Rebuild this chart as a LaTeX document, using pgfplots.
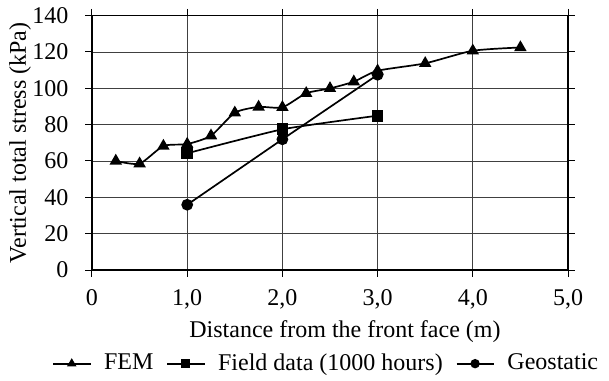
\documentclass[border=0pt]{standalone}
\usepackage{fontspec}
\setmainfont{Liberation Serif}
\usepackage{pgfplots}
\pgfplotsset{compat=1.18}
\begin{document}
\fontsize{24}{28}\selectfont
\begin{tikzpicture}
\begin{axis}[
 scale only axis, width=476pt, height=254.5pt,
 xmin=0,xmax=5,ymin=0,ymax=140,
 xtick={0,1,2,3,4,5}, ytick={0,20,...,140},
 xticklabels={0,{1,0},{2,0},{3,0},{4,0},{5,0}},
 grid=major, major grid style={black!75, line width=0.7pt},
 axis line style={line width=1.2pt},
 tick align=outside, major tick length=6.5pt, tick style={black, line width=1pt},
 xlabel={Distance from the front face (m)},
 ylabel={Vertical total stress (kPa)},
 /pgf/number format/assume math mode=true,
 tick label style={font=\fontsize{24}{28}\selectfont},
 label style={font=\fontsize{24}{28}\selectfont},
 yticklabel style={xshift=-9pt},
 xticklabel style={yshift=-5pt},
 xlabel style={yshift=5pt, xshift=15pt},
 ylabel style={yshift=-15pt},
 legend style={at={(0.49,-0.368)}, anchor=center, draw=none, legend columns=3,
   font=\fontsize{24}{28}\selectfont, nodes={inner sep=0pt},
   /tikz/every odd column/.append style={column sep=13pt},
   /tikz/every even column/.append style={column sep=13pt}},
 legend cell align=left,
 legend image code/.code={\draw[line width=1.7pt,mark repeat=2,mark phase=2,mark size=3.8pt] plot coordinates {(0pt,0pt)(18.5pt,0pt)(37pt,0pt)};},
]
\coordinate (sw) at (rel axis cs:0,0);
\addplot[black, line width=1.7pt, smooth, tension=0.4, mark=triangle*, mark size=5.5pt, mark options={solid}] coordinates {
(0.25,60.0)(0.5,58.5)(0.75,68.2)(1.0,69.3)(1.25,73.9)(1.5,86.5)(1.75,89.7)(2.0,89.5)(2.25,97.2)(2.5,99.9)(2.75,103.6)(3.0,109.6)(3.5,113.7)(4.0,120.6)(4.5,122.4)};
\addlegendentry{FEM}
\addplot[black, line width=1.7pt, smooth, tension=0.3, mark=square*, mark size=5pt] coordinates {
(1.0,64.2)(2.0,77.4)(3.0,84.9)};
\addlegendentry{Field data (1000 hours)}
\addplot[black, line width=1.7pt, mark=*, mark size=5pt] coordinates {
(1.0,35.9)(2.0,71.9)(3.0,107.4)};
\addlegendentry{Geostatic}
\end{axis}
\pgfresetboundingbox
\path (sw) ++(-92pt,-110pt) rectangle ++(609pt,380pt);
\end{tikzpicture}
\end{document}
